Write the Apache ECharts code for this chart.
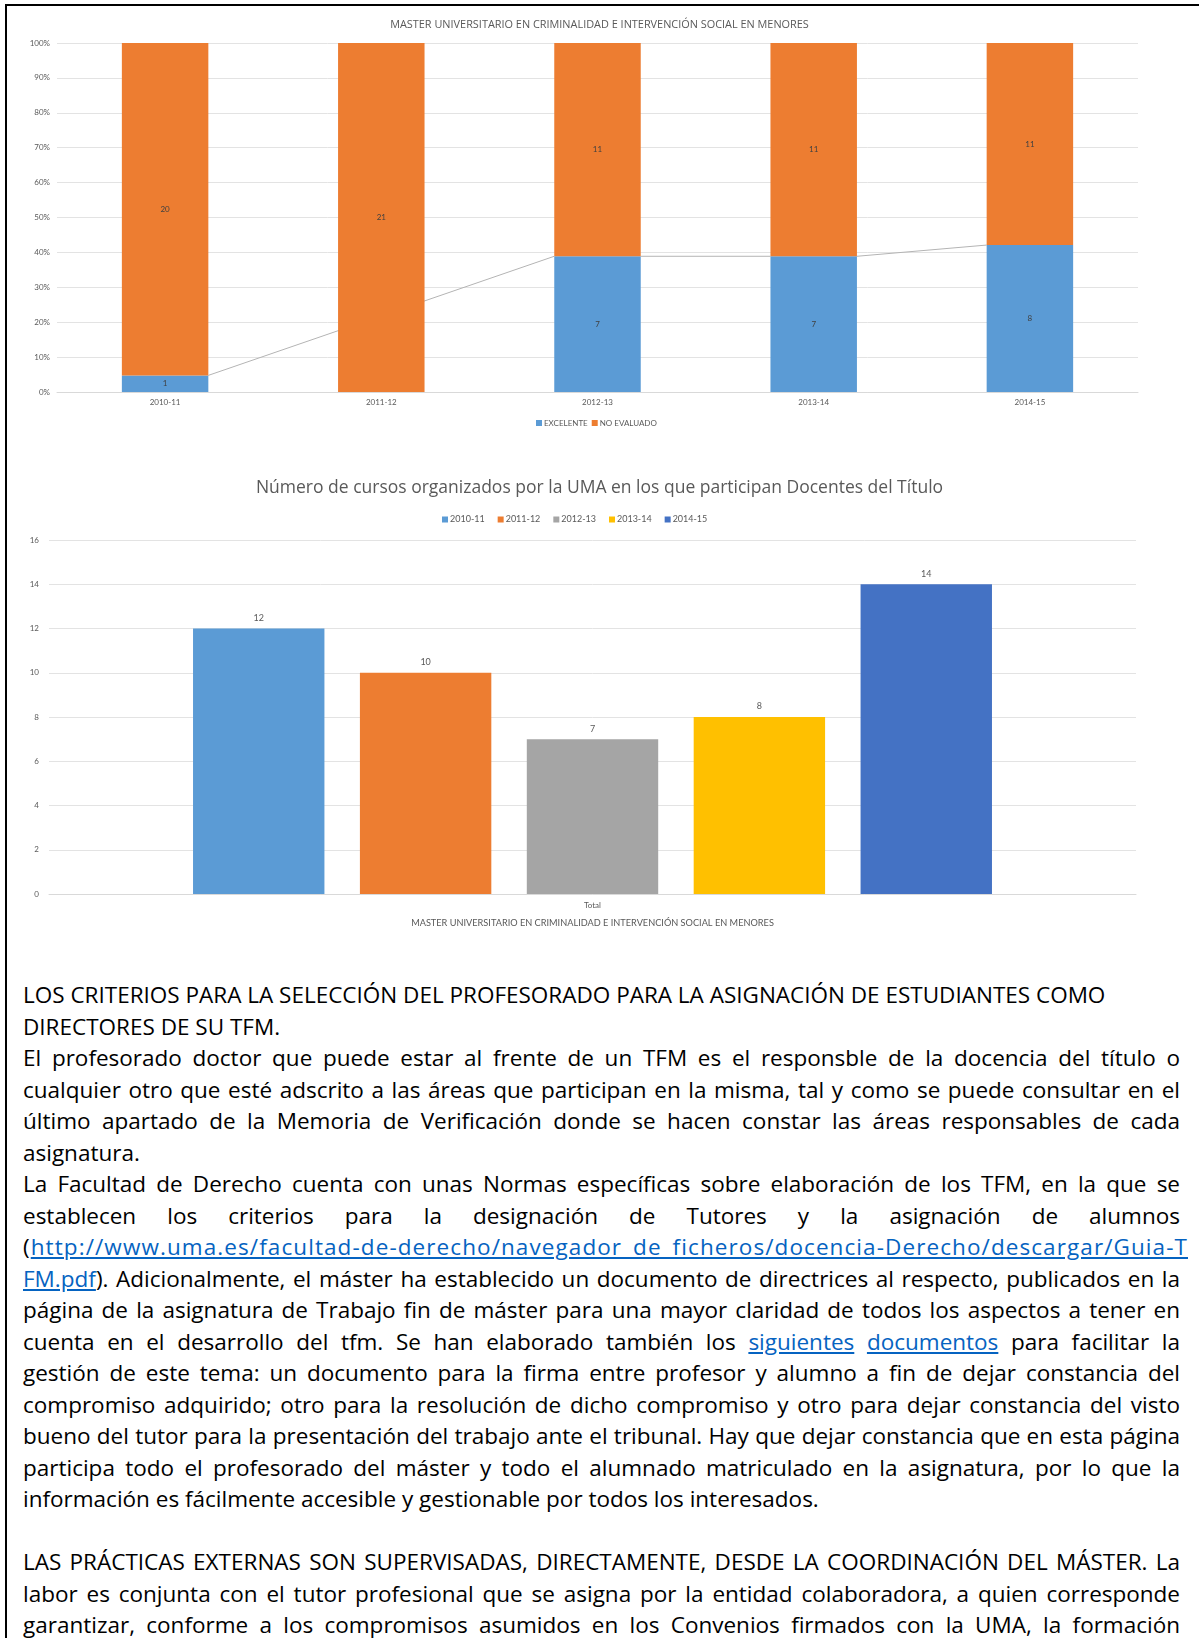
<!DOCTYPE html>
<html><head><meta charset="utf-8">
<script src="https://cdn.jsdelivr.net/npm/echarts@6/dist/echarts.min.js"></script>
<style>
html,body{margin:0;padding:0;background:#fff;width:1199px;height:1638px;overflow:hidden;}
#frame{position:absolute;left:5px;top:4px;width:1300px;height:1700px;border-left:2px solid #000;border-top:2px solid #000;box-sizing:border-box;}
#chart{position:absolute;left:0;top:0;width:1199px;height:960px;}
#text{position:absolute;left:23px;top:979px;width:1157px;font-family:"Open Sans",sans-serif;font-size:22.5px;line-height:31.5px;color:#000;}
.ln{white-space:nowrap;height:31.5px;}
.ln a{color:#0563C1;text-decoration:underline;}
</style></head>
<body>
<div id="frame"></div>
<div id="chart"></div>
<div id="text"></div>
<script>
// ---- Chart 1 data ----
const cats1 = ['2010-11', '2011-12', '2012-13', '2013-14', '2014-15'];
const excelente = [1, 0, 7, 7, 8];
const noEvaluado = [20, 21, 11, 11, 11];
const series1Names = ['EXCELENTE', 'NO EVALUADO'];
// ---- Chart 2 data ----
const cats2 = ['Total'];
const years2 = ['2010-11', '2011-12', '2012-13', '2013-14', '2014-15'];
const cursos = [12, 10, 7, 8, 14];
const title1 = 'MASTER UNIVERSITARIO EN CRIMINALIDAD E INTERVENCIÓN SOCIAL EN MENORES';
const title2 = 'Número de cursos organizados por la UMA en los que participan Docentes del Título';
const axisName2 = 'MASTER UNIVERSITARIO EN CRIMINALIDAD E INTERVENCIÓN SOCIAL EN MENORES';

const colors2 = ['#5B9BD5', '#ED7D31', '#A5A5A5', '#FFC000', '#4472C4'];
const txt = '#595959';
const font = 'Lato, sans-serif';
const font2 = '"Open Sans", sans-serif';

const totals = excelente.map((v, i) => v + noEvaluado[i]);
const pctExc = excelente.map((v, i) => v / totals[i] * 100);
const pctNo = noEvaluado.map((v, i) => v / totals[i] * 100);

const segs = [];
for (let i = 0; i < cats1.length; i++) {
  if (!excelente[i]) continue;
  let j = i + 1;
  while (j < cats1.length && !excelente[j]) j++;
  if (j < cats1.length) segs.push([i, pctExc[i], j, pctExc[j]]);
}

const chart = echarts.init(document.getElementById('chart'), null, {renderer: 'canvas'});
const series = [
  {
    name: 'serieslines', type: 'custom', xAxisIndex: 0, yAxisIndex: 0, z: 1, silent: true,
    data: segs, encode: {x: 0, y: 1},
    renderItem: function (params, api) {
      const p1 = api.coord([api.value(0), api.value(1)]);
      const p2 = api.coord([api.value(2), api.value(3)]);
      const half = api.size([1, 0])[0] * 0.2;
      return {type: 'line', shape: {x1: p1[0] + half, y1: p1[1], x2: p2[0] - half, y2: p2[1]},
        style: {stroke: '#B4B4B4', lineWidth: 1}};
    }
  },
  {
    name: series1Names[0], type: 'bar', stack: 'a', xAxisIndex: 0, yAxisIndex: 0, z: 2,
    barCategoryGap: '60%', itemStyle: {color: '#5B9BD5'},
    data: pctExc,
    label: {show: true, position: 'inside', color: '#404040', fontSize: 8, fontFamily: font,
      formatter: p => excelente[p.dataIndex] ? String(excelente[p.dataIndex]) : ''}
  },
  {
    name: series1Names[1], type: 'bar', stack: 'a', xAxisIndex: 0, yAxisIndex: 0, z: 2,
    barCategoryGap: '60%', itemStyle: {color: '#ED7D31'},
    data: pctNo,
    label: {show: true, position: 'inside', color: '#404040', fontSize: 8, fontFamily: font,
      formatter: p => noEvaluado[p.dataIndex] ? String(noEvaluado[p.dataIndex]) : ''}
  }
];
years2.forEach((y, i) => {
  series.push({
    name: y, type: 'bar', xAxisIndex: 1, yAxisIndex: 1,
    barCategoryGap: '26.5%', barGap: '27%',
    itemStyle: {color: colors2[i]},
    data: [cursos[i]],
    label: {show: true, position: 'top', distance: 6, color: txt, fontSize: 9, fontFamily: font}
  });
});

chart.setOption({
  animation: false,
  textStyle: {fontFamily: font},
  title: [
    {text: title1, left: 'center', top: 14, textStyle: {color: txt, fontSize: 10.9, fontWeight: 'normal', fontFamily: font2}},
    {text: title2, left: 'center', top: 474, textStyle: {color: txt, fontSize: 17.5, fontWeight: 'normal', fontFamily: font2}}
  ],
  legend: [
    {data: series1Names, top: 414, left: 531, itemWidth: 6, itemHeight: 6, itemGap: 4, icon: 'rect',
      textStyle: {color: txt, fontSize: 8, fontFamily: font, padding: [0, 0, 0, -3]}},
    {data: years2, top: 510, left: 437, itemWidth: 6, itemHeight: 6, itemGap: 13, icon: 'rect',
      textStyle: {color: txt, fontSize: 9, fontFamily: font, padding: [0, 0, 0, -3]}}
  ],
  grid: [
    {left: 57, right: 61, top: 43, height: 349, containLabel: false},
    {left: 49, right: 63, top: 540, height: 354, containLabel: false}
  ],
  xAxis: [
    {type: 'category', gridIndex: 0, data: cats1,
      axisLine: {lineStyle: {color: '#D9D9D9'}}, axisTick: {show: false},
      axisLabel: {color: txt, fontSize: 8, margin: 6, fontFamily: font}},
    {type: 'category', gridIndex: 1, data: cats2,
      axisLine: {lineStyle: {color: '#D9D9D9'}}, axisTick: {show: false},
      axisLabel: {color: txt, fontSize: 8, margin: 7, fontFamily: font},
      name: axisName2, nameLocation: 'middle', nameGap: 25,
      nameTextStyle: {color: txt, fontSize: 9.2, fontFamily: font}}
  ],
  yAxis: [
    {type: 'value', gridIndex: 0, min: 0, max: 100, interval: 10,
      axisLine: {show: false}, axisTick: {show: false},
      splitLine: {lineStyle: {color: '#E3E3E3'}},
      axisLabel: {color: txt, fontSize: 8, margin: 7, formatter: '{value}%', fontFamily: font}},
    {type: 'value', gridIndex: 1, min: 0, max: 16, interval: 2,
      axisLine: {show: false}, axisTick: {show: false},
      splitLine: {lineStyle: {color: '#E3E3E3'}},
      axisLabel: {color: txt, fontSize: 8, margin: 10, fontFamily: font}}
  ],
  series: series
});

// ---- Text below ----
// j: justify to full width; w: explicit target width for an unjustified line
const L = (h, j, w) => ({h: h, j: j, w: w});
const textLines = [
  L('LOS CRITERIOS PARA LA SELECCIÓN DEL PROFESORADO PARA LA ASIGNACIÓN DE ESTUDIANTES COMO', false),
  L('DIRECTORES DE SU TFM.', false),
  L('El profesorado doctor que puede estar al frente de un TFM es el responsble de la docencia del título o', true),
  L('cualquier otro que esté adscrito a las áreas que participan en la misma, tal y como se puede consultar en el', true),
  L('último apartado de la Memoria de Verificación donde se hacen constar las áreas responsables de cada', true),
  L('asignatura.', false),
  L('La Facultad de Derecho cuenta con unas Normas específicas sobre elaboración de los TFM, en la que se', true),
  L('establecen los criterios para la designación de Tutores y la asignación de alumnos', true),
  L('(<a>http://www.uma.es/facultad-de-derecho/navegador_de_ficheros/docencia-Derecho/descargar/Guia-T</a>', false, 1165),
  L('<a>FM.pdf</a>). Adicionalmente, el máster ha establecido un documento de directrices al respecto, publicados en la', true),
  L('página de la asignatura de Trabajo fin de máster para una mayor claridad de todos los aspectos a tener en', true),
  L('cuenta en el desarrollo del tfm. Se han elaborado también los <a>siguientes</a> <a>documentos</a> para facilitar la', true),
  L('gestión de este tema: un documento para la firma entre profesor y alumno a fin de dejar constancia del', true),
  L('compromiso adquirido; otro para la resolución de dicho compromiso y otro para dejar constancia del visto', true),
  L('bueno del tutor para la presentación del trabajo ante el tribunal. Hay que dejar constancia que en esta página', true),
  L('participa todo el profesorado del máster y todo el alumnado matriculado en la asignatura, por lo que la', true),
  L('información es fácilmente accesible y gestionable por todos los interesados.', false),
  L('', false),
  L('LAS PRÁCTICAS EXTERNAS SON SUPERVISADAS, DIRECTAMENTE, DESDE LA COORDINACIÓN DEL MÁSTER. La', true),
  L('labor es conjunta con el tutor profesional que se asigna por la entidad colaboradora, a quien corresponde', true),
  L('garantizar, conforme a los compromisos asumidos en los Convenios firmados con la UMA, la formación', true)
];
const box = document.getElementById('text');
const W = 1157;
textLines.forEach(t => {
  const d = document.createElement('div');
  d.className = 'ln';
  const s = document.createElement('span');
  s.innerHTML = t.h;
  d.appendChild(s);
  box.appendChild(d);
  const target = t.j ? W : t.w;
  if (!target) return;
  const w = s.getBoundingClientRect().width;
  const txtc = s.textContent;
  const n = (txtc.match(/ /g) || []).length;
  const extra = target - w;
  if (extra >= -n * 1.5 && n > 0) {
    d.style.wordSpacing = (extra / n) + 'px';
  } else {
    d.style.letterSpacing = (extra / txtc.length) + 'px';
  }
});
</script>
</body></html>
